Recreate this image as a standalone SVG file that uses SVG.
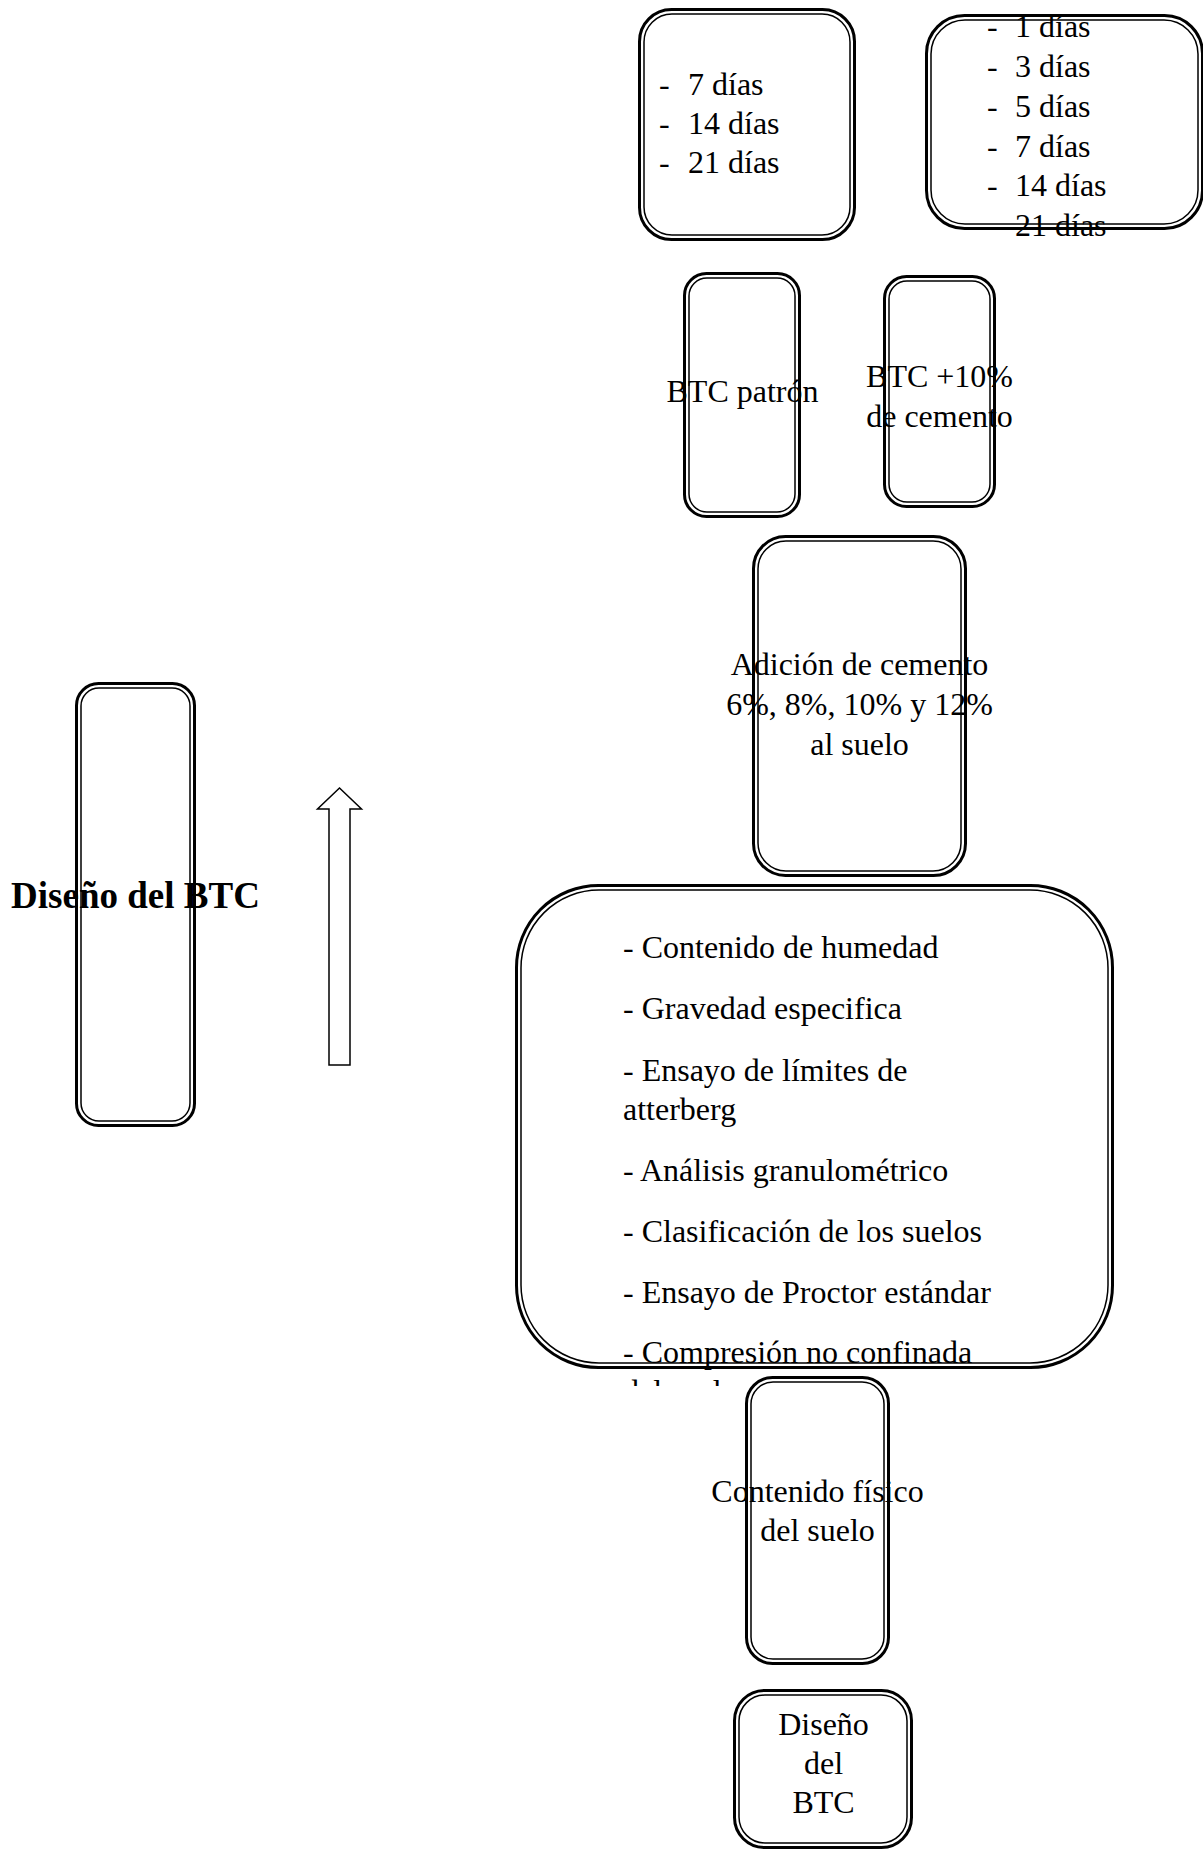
<svg xmlns="http://www.w3.org/2000/svg" width="1203" height="1850" viewBox="0 0 1203 1850">
<style>
.o{fill:none;stroke:#000;stroke-width:3}
.i{fill:none;stroke:#000;stroke-width:1.5}
.t{font-family:"Liberation Serif","Times New Roman",serif;font-size:32px;fill:#000}
.c{text-anchor:middle}
.b{font-weight:bold;font-size:37px}
.arrow{fill:#fff;stroke:#000;stroke-width:1.5}
</style>
<defs>
<clipPath id="clipG"><rect x="500" y="880" width="640" height="506"/></clipPath>
</defs>
<rect width="1203" height="1850" fill="#fff"/>

<g id="node-7-14-21">
<text class="t"><tspan x="659" y="95">-</tspan><tspan x="688" y="95">7 días</tspan></text>
<text class="t"><tspan x="659" y="134">-</tspan><tspan x="688" y="134">14 días</tspan></text>
<text class="t"><tspan x="659" y="173">-</tspan><tspan x="688" y="173">21 días</tspan></text>
<rect class="o" x="639.5" y="9.5" width="215" height="230" rx="32"/>
<rect class="i" x="644" y="14" width="206" height="221" rx="28"/>
</g>

<g id="node-1-to-21">
<text class="t"><tspan x="987" y="37">-</tspan><tspan x="1015" y="37">1 días</tspan></text>
<text class="t"><tspan x="987" y="77">-</tspan><tspan x="1015" y="77">3 días</tspan></text>
<text class="t"><tspan x="987" y="117">-</tspan><tspan x="1015" y="117">5 días</tspan></text>
<text class="t"><tspan x="987" y="157">-</tspan><tspan x="1015" y="157">7 días</tspan></text>
<text class="t"><tspan x="987" y="196">-</tspan><tspan x="1015" y="196">14 días</tspan></text>
<text class="t"><tspan x="987" y="236">-</tspan><tspan x="1015" y="236">21 días</tspan></text>
<rect class="o" x="926.5" y="15.5" width="276" height="213" rx="38"/>
<rect class="i" x="931" y="20" width="267" height="204" rx="34"/>
</g>

<g id="node-btc-patron">
<text class="t c" x="742.5" y="402">BTC patrón</text>
<rect class="o" x="684.5" y="273.5" width="115" height="243" rx="22"/>
<rect class="i" x="689" y="278" width="106" height="234" rx="18"/>
</g>

<g id="node-btc-10">
<text class="t c" x="939.5" y="387">BTC +10%</text>
<text class="t c" x="939.5" y="427">de cemento</text>
<rect class="o" x="884.5" y="276.5" width="110" height="230" rx="22"/>
<rect class="i" x="889" y="281" width="101" height="221" rx="18"/>
</g>

<g id="node-adicion">
<text class="t c" x="859.5" y="675">Adición de cemento</text>
<text class="t c" x="859.5" y="715">6%, 8%, 10% y 12%</text>
<text class="t c" x="859.5" y="755">al suelo</text>
<rect class="o" x="753.5" y="536.5" width="212" height="339" rx="32"/>
<rect class="i" x="758" y="541" width="203" height="330" rx="28"/>
</g>

<g id="node-diseno-left">
<text class="t b c" x="135.5" y="908">Diseño del BTC</text>
<rect class="o" x="76.5" y="683.5" width="118" height="442" rx="22"/>
<rect class="i" x="81" y="688" width="109" height="433" rx="18"/>
</g>

<g id="node-ensayos">
<g clip-path="url(#clipG)">
<text class="t" x="623" y="958">- Contenido de humedad</text>
<text class="t" x="623" y="1019">- Gravedad especifica</text>
<text class="t" x="623" y="1081">- Ensayo de límites de</text>
<text class="t" x="623" y="1120">atterberg</text>
<text class="t" x="623" y="1181">- Análisis granulométrico</text>
<text class="t" x="623" y="1242">- Clasificación de los suelos</text>
<text class="t" x="623" y="1303">- Ensayo de Proctor estándar</text>
<text class="t" x="623" y="1363">- Compresión no confinada</text>
<text class="t" x="623" y="1402">del suelo</text>
</g>
<rect class="o" x="516.5" y="885.5" width="596" height="482" rx="82"/>
<rect class="i" x="521" y="890" width="587" height="473" rx="78"/>
</g>

<g id="node-contenido">
<text class="t c" x="817.5" y="1502">Contenido físico</text>
<text class="t c" x="817.5" y="1541">del suelo</text>
<rect class="o" x="746.5" y="1377.5" width="142" height="286" rx="26"/>
<rect class="i" x="751" y="1382" width="133" height="277" rx="22"/>
</g>

<g id="node-diseno-bottom">
<text class="t c" x="823.5" y="1735">Diseño</text>
<text class="t c" x="823.5" y="1774">del</text>
<text class="t c" x="823.5" y="1813">BTC</text>
<rect class="o" x="734.5" y="1690.5" width="177" height="157" rx="30"/>
<rect class="i" x="739" y="1695" width="168" height="148" rx="26"/>
</g>

<g id="connectors">
<polygon class="arrow" points="339.5,788 361.5,809 350,809 350,1065 329,1065 329,809 317.5,809"/>
</g>
</svg>
